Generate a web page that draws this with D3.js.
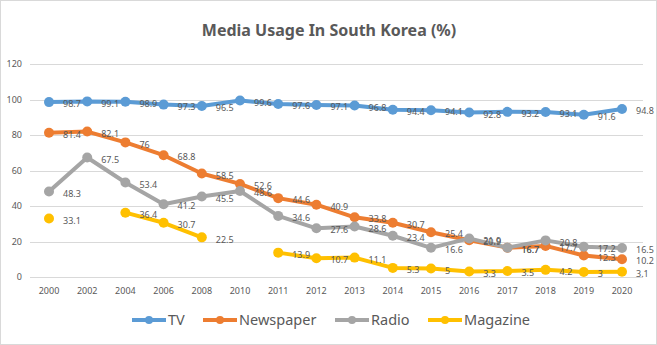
<!DOCTYPE html>
<html>
<head>
<meta charset="utf-8">
<script src="https://cdn.jsdelivr.net/npm/d3@7"></script>
<style>
  body { margin: 0; background: #fff; }
  text { font-family: "Noto Sans", "DejaVu Sans", sans-serif; }
</style>
</head>
<body>
<svg id="chart" width="657" height="345"></svg>
<script>
//Chart data
const years = ['2000','2002','2004','2006','2008','2010','2011','2012','2013','2014','2015','2016','2017','2018','2019','2020'];
const tv = [98.7, 99.1, 98.9, 97.3, 96.5, 99.6, 97.6, 97.1, 96.8, 94.4, 94.1, 92.8, 93.2, 93.1, 91.6, 94.8];
const newspaper = [81.4, 82.1, 76, 68.8, 58.5, 52.6, 44.6, 40.9, 33.8, 30.7, 25.4, 20.9, 16.7, 17.7, 12.3, 10.2];
const radio = [48.3, 67.5, 53.4, 41.2, 45.5, 48.6, 34.6, 27.6, 28.6, 23.4, 16.6, 21.9, 16.7, 20.8, 17.2, 16.5];
const magazine = [33.1, null, 36.4, 30.7, 22.5, null, 13.9, 10.7, 11.1, 5.3, 5, 3.3, 3.5, 4.2, 3, 3.1];
const yTicks = [0, 20, 40, 60, 80, 100, 120];
const seriesNames = ['TV', 'Newspaper', 'Radio', 'Magazine'];
const seriesColors = ['#5B9BD5', '#ED7D31', '#A5A5A5', '#FFC000'];

const textColor = '#595959';
const gridColor = '#d9d9d9';

var svg = d3.select('#chart');

//Outer border
svg.append('rect')
    .attr('x', 0.5).attr('y', 0.5)
    .attr('width', 656).attr('height', 344)
    .attr('fill', 'white')
    .attr('stroke', gridColor);

//Title
svg.append('text')
    .attr('x', 329)
    .attr('y', 36)
    .attr('text-anchor', 'middle')
    .attr('font-size', 16)
    .attr('font-weight', 'bold')
    .attr('fill', textColor)
    .text('Media Usage In South Korea (%)');

//Scales
var x = d3.scalePoint()
    .domain(years)
    .range([49, 622]);

var y = d3.scaleLinear()
    .domain([0, 120])
    .range([277.3, 64.3]);

//Gridlines
svg.append('g')
    .selectAll('line')
    .data(yTicks)
    .enter().append('line')
    .attr('x1', 30)
    .attr('x2', 643)
    .attr('y1', d => Math.round(y(d)) + 0.5)
    .attr('y2', d => Math.round(y(d)) + 0.5)
    .attr('stroke', gridColor)
    .attr('stroke-width', 1);

//Y axis labels
svg.append('g')
    .selectAll('text')
    .data(yTicks)
    .enter().append('text')
    .attr('x', 22)
    .attr('y', d => y(d))
    .attr('dy', '0.35em')
    .attr('text-anchor', 'end')
    .attr('font-size', 9)
    .attr('fill', textColor)
    .text(d => d);

//X axis labels
svg.append('g')
    .selectAll('text')
    .data(years)
    .enter().append('text')
    .attr('x', d => x(d))
    .attr('y', 291)
    .attr('dy', '0.35em')
    .attr('text-anchor', 'middle')
    .attr('font-size', 9)
    .attr('fill', textColor)
    .text(d => d);

//Series
var allSeries = [tv, newspaper, radio, magazine];

var line = d3.line()
    .defined(d => d.v != null)
    .x(d => x(d.year))
    .y(d => y(d.v));

allSeries.forEach(function(vals, s) {
    var pts = vals.map((v, i) => ({year: years[i], v: v}));
    var g = svg.append('g');

    g.append('path')
        .datum(pts)
        .attr('fill', 'none')
        .attr('stroke', seriesColors[s])
        .attr('stroke-width', 4)
        .attr('stroke-linejoin', 'round')
        .attr('d', line);

    g.selectAll('circle')
        .data(pts.filter(d => d.v != null))
        .enter().append('circle')
        .attr('cx', d => x(d.year))
        .attr('cy', d => y(d.v))
        .attr('r', 5)
        .attr('fill', seriesColors[s]);
});

//Data labels drawn above all lines
allSeries.forEach(function(vals, s) {
    var pts = vals.map((v, i) => ({year: years[i], v: v})).filter(d => d.v != null);
    svg.append('g')
        .selectAll('text')
        .data(pts)
        .enter().append('text')
        .attr('x', d => x(d.year) + 14)
        .attr('y', d => y(d.v) + 2)
        .attr('dy', '0.35em')
        .attr('font-size', 9)
        .attr('fill', textColor)
        .text(d => d.v);
});

//Legend
var legendX = [132, 203, 335, 428];
var legend = svg.append('g');
seriesNames.forEach(function(name, i) {
    var lx = legendX[i];
    legend.append('line')
        .attr('x1', lx).attr('x2', lx + 34)
        .attr('y1', 320).attr('y2', 320)
        .attr('stroke', seriesColors[i])
        .attr('stroke-width', 4);
    legend.append('circle')
        .attr('cx', lx + 17).attr('cy', 320)
        .attr('r', 4)
        .attr('fill', seriesColors[i]);
    legend.append('text')
        .attr('x', lx + 36)
        .attr('y', 320)
        .attr('dy', '0.35em')
        .attr('font-size', 14.5)
        .attr('fill', textColor)
        .text(name);
});
</script>
</body>
</html>
